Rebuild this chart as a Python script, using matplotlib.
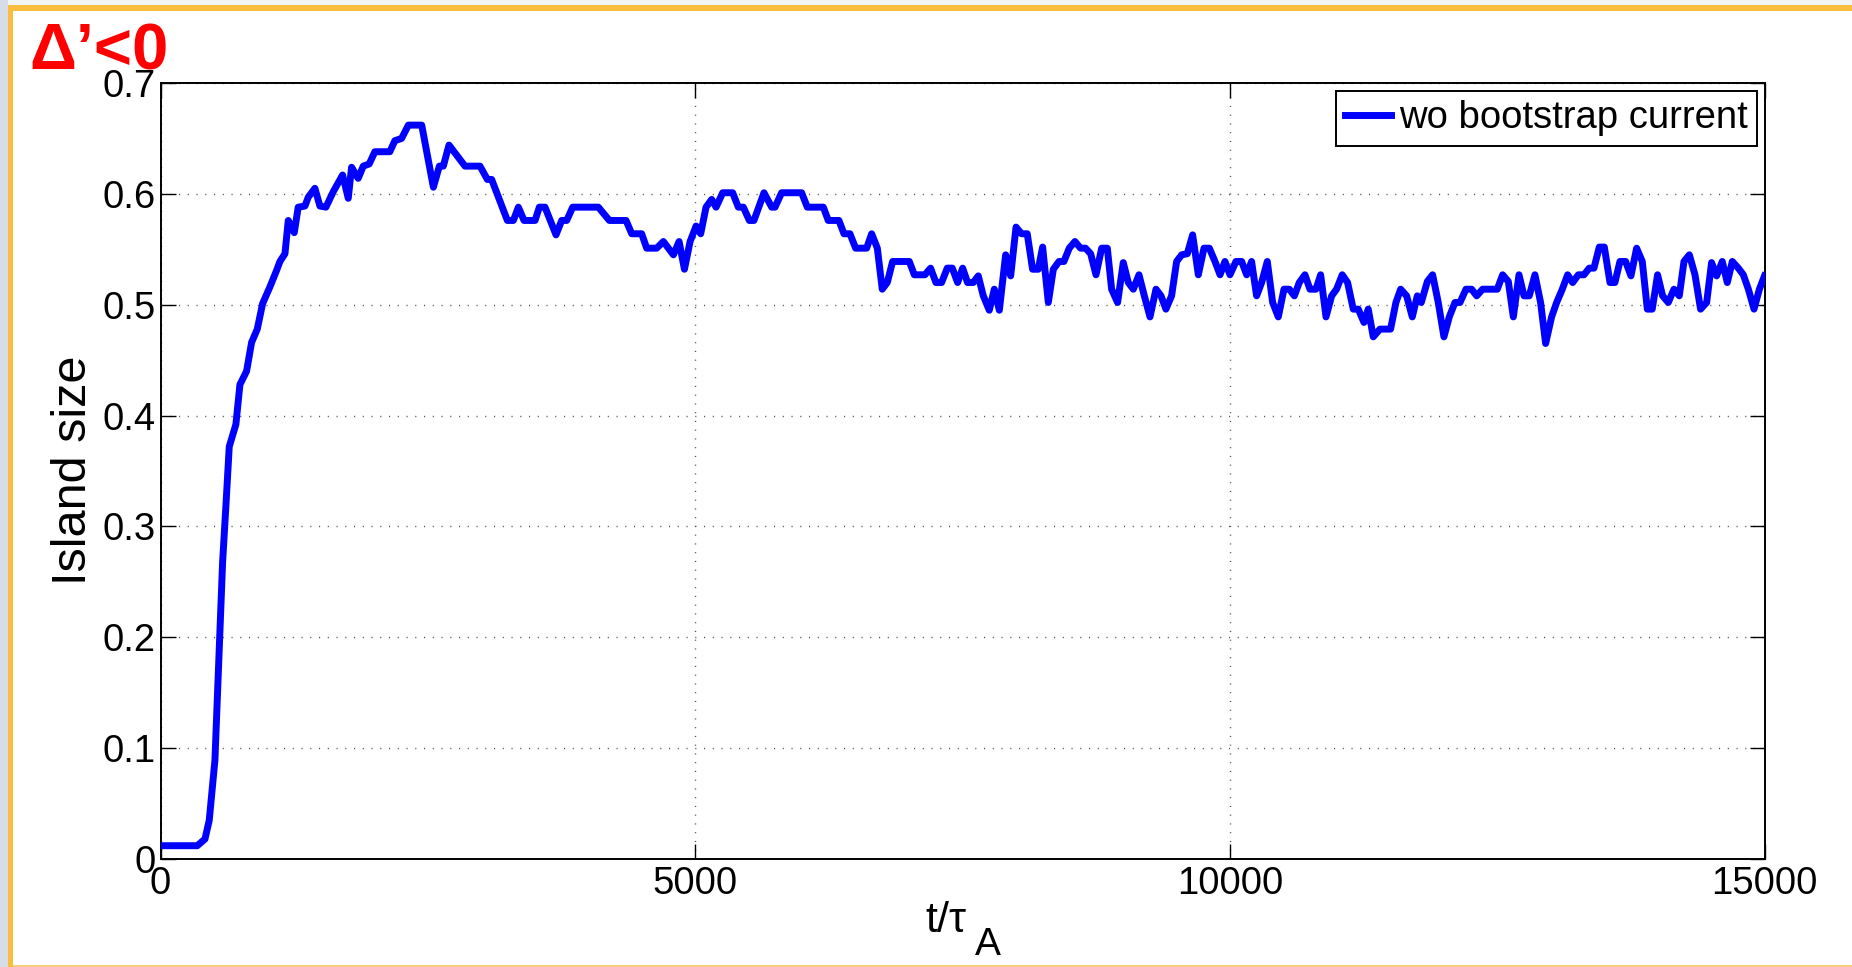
import matplotlib
matplotlib.use("Agg")
import matplotlib.pyplot as plt
from matplotlib.patches import Rectangle

# Island width history, t in Alfven times
t_alfven = [
    0, 343, 415, 455, 508, 539, 580, 611, 642, 704, 742, 804, 851, 904, 954,
    1022, 1085, 1116, 1163, 1194, 1250, 1287, 1350, 1381, 1443, 1490, 1546,
    1615, 1702, 1755, 1786, 1848, 1895, 1951, 2004, 2144, 2191, 2254,
    2317, 2442, 2551, 2607, 2644, 2697, 2847, 2987, 3056, 3096, 3243, 3299,
    3346, 3399, 3502, 3542, 3595, 3698, 3751, 3798, 3854, 4094, 4197, 4353,
    4406, 4499, 4546, 4640, 4702, 4796, 4849, 4899, 4952, 5008, 5051, 5101,
    5154, 5195, 5257, 5350, 5403, 5450, 5506, 5549,
    5643, 5715, 5746, 5808, 5995, 6048, 6198, 6244, 6344, 6391, 6447, 6500,
    6603, 6650, 6703, 6749, 6796, 6846, 7002, 7049, 7148, 7201, 7251, 7304,
    7357, 7404, 7454, 7501, 7547, 7600, 7647, 7694, 7750, 7797, 7844, 7903,
    7950, 8000, 8052, 8105, 8155, 8208, 8249, 8302, 8349, 8402, 8448, 8498,
    8551, 8604, 8650, 8698, 8748, 8801, 8854, 8894, 8950, 9003, 9050, 9097,
    9150, 9200, 9253, 9309, 9356, 9402, 9455, 9502, 9549, 9602, 9652, 9705,
    9758, 9808, 9861, 9908, 9954, 10001, 10057, 10110, 10157, 10203, 10250,
    10297, 10350, 10400, 10453, 10506, 10556, 10603, 10649, 10702, 10749,
    10805, 10849, 10899, 10952, 10998, 11051, 11101, 11154, 11201, 11254,
    11294, 11341, 11404, 11503, 11553, 11597, 11653, 11706, 11753, 11790,
    11847, 11896, 11949, 12002, 12052, 12105, 12152, 12208, 12261, 12308,
    12364, 12501, 12551, 12604, 12651, 12704, 12751, 12800, 12853, 12906,
    12953, 13009, 13056, 13109, 13159, 13206, 13259, 13312, 13361, 13405,
    13455, 13502, 13555, 13601, 13648, 13701, 13751, 13804, 13857, 13904,
    13950, 14000, 14047, 14100, 14153, 14203, 14247, 14297, 14350, 14402,
    14459, 14505, 14552, 14605, 14652, 14699, 14755, 14802, 14849, 14902,
    14952, 15000,
]
island_size = [
    0.012, 0.012, 0.018, 0.035, 0.089, 0.167, 0.268, 0.319, 0.372, 0.392,
    0.428, 0.440, 0.466, 0.478, 0.501, 0.516, 0.531, 0.539, 0.546, 0.576,
    0.565, 0.588, 0.589, 0.597, 0.605, 0.589, 0.588, 0.602, 0.617, 0.596,
    0.624, 0.614, 0.625, 0.627, 0.638, 0.638, 0.648, 0.650,
    0.662, 0.662, 0.606, 0.625, 0.625, 0.644, 0.625, 0.625, 0.613, 0.613,
    0.576, 0.576, 0.588, 0.576, 0.576, 0.588, 0.588, 0.563, 0.576, 0.576,
    0.588, 0.588, 0.576, 0.576, 0.564, 0.564, 0.551, 0.551, 0.557, 0.545,
    0.557, 0.532, 0.557, 0.571, 0.564, 0.588, 0.595, 0.588, 0.601, 0.601,
    0.588, 0.588, 0.576, 0.576,
    0.601, 0.588, 0.588, 0.601, 0.601, 0.588, 0.588, 0.576, 0.576, 0.564,
    0.564, 0.551, 0.551, 0.564, 0.551, 0.514, 0.520, 0.539, 0.539, 0.527,
    0.527, 0.533, 0.520, 0.520, 0.533, 0.533, 0.520, 0.533, 0.520, 0.520,
    0.526, 0.508, 0.495, 0.514, 0.495, 0.545, 0.526, 0.570, 0.564, 0.564,
    0.532, 0.532, 0.552, 0.502, 0.532, 0.539, 0.539, 0.551, 0.557, 0.551,
    0.551, 0.546, 0.527, 0.551, 0.551, 0.514, 0.502, 0.538, 0.520, 0.514,
    0.527, 0.508, 0.489, 0.514, 0.508, 0.496, 0.508, 0.539, 0.545, 0.546,
    0.563, 0.527, 0.551, 0.551, 0.539, 0.527, 0.539, 0.527, 0.539, 0.539,
    0.527, 0.539, 0.508, 0.520, 0.539, 0.502, 0.489, 0.514, 0.514, 0.508,
    0.520, 0.527, 0.514, 0.514, 0.527, 0.489, 0.508, 0.514, 0.527, 0.520,
    0.496, 0.496, 0.484, 0.496, 0.471, 0.478, 0.478, 0.502, 0.514, 0.508,
    0.489, 0.508, 0.502,
    0.521, 0.527, 0.502, 0.471, 0.489, 0.502, 0.502, 0.514, 0.514, 0.508,
    0.514, 0.514, 0.527, 0.521, 0.489, 0.527, 0.508, 0.508, 0.527, 0.502,
    0.465, 0.489, 0.502, 0.514, 0.527, 0.520, 0.527, 0.527, 0.533, 0.533,
    0.552, 0.552, 0.520, 0.520, 0.539, 0.539, 0.526, 0.551, 0.539, 0.496,
    0.496, 0.527, 0.508, 0.502, 0.514, 0.508, 0.539, 0.545, 0.527, 0.496,
    0.502, 0.538, 0.526, 0.539, 0.520, 0.539, 0.533, 0.527, 0.514, 0.496,
    0.514, 0.526,
]

x_ticks = [0, 5000, 10000, 15000]
x_tick_labels = ["0", "5000", "10000", "15000"]
y_ticks = [0, 0.1, 0.2, 0.3, 0.4, 0.5, 0.6, 0.7]
y_tick_labels = ["0", "0.1", "0.2", "0.3", "0.4", "0.5", "0.6", "0.7"]
series_label = "wo bootstrap current"
panel_tag = "\u0394\u2019<0"

W, H = 1852, 967
plt.rcParams["font.family"] = ["Liberation Sans", "DejaVu Sans"]

fig = plt.figure(figsize=(W / 100, H / 100), dpi=100, facecolor="white")

# slide frame around the plot
def px_rect(x0, y0, x1, y1, color):
    fig.patches.append(Rectangle((x0 / W, 1 - y1 / H), (x1 - x0) / W, (y1 - y0) / H,
                                 transform=fig.transFigure, facecolor=color,
                                 edgecolor="none", zorder=0))

px_rect(0, 0, W, 5, "#f3f4f6")
px_rect(0, 0, 8, H, "#d6dde8")
px_rect(8, 5, W, 11, "#fbbd40")
px_rect(8, 5, 13, H, "#fbbd40")
px_rect(13, 965, W, H, "#f5cf7a")

ax = fig.add_axes([160.6 / W, 1 - 859 / H, (1764.5 - 160.6) / W, (859 - 83) / H])
ax.set_facecolor("white")

ax.plot(t_alfven, island_size, color="#0000ff", lw=5.0, solid_joinstyle="round",
        label=series_label, zorder=3)

ax.set_xlim(0, 15000)
ax.set_ylim(0, 0.7)
ax.set_xticks(x_ticks, x_tick_labels)
ax.set_yticks(y_ticks, y_tick_labels)
ax.tick_params(axis="both", which="major", direction="in", length=11, width=1.0,
               labelsize=27.5, top=True, right=True, colors="black")
ax.tick_params(axis="x", pad=5)
ax.tick_params(axis="y", pad=3.5)
for s in ax.spines.values():
    s.set_linewidth(1.4)
    s.set_color("black")

ax.grid(True, color="#555555", lw=1.0, linestyle=(0, (0.8, 5.5)))
ax.set_axisbelow(True)

leg = ax.legend(loc="upper right", fontsize=27.5, frameon=True, fancybox=False,
                framealpha=1, edgecolor="black", borderpad=0.25, handlelength=1.2,
                handletextpad=0.2, borderaxespad=0.2)
leg.get_frame().set_linewidth(1.4)

# axis titles
fig.text(73 / W, 1 - 470 / H, "Island size", rotation=90, ha="center", va="center",
         fontsize=35)
fig.text(925 / W, 1 - 932 / H, "t/\u03c4", ha="left", va="baseline", fontsize=31)
fig.text(975 / W, 1 - 955 / H, "A", ha="left", va="baseline", fontsize=28)

fig.text(29 / W, 1 - 70 / H, panel_tag, ha="left", va="baseline", fontsize=47,
         fontweight="bold", color="#ff0000")

fig.savefig("out.png", dpi=100, facecolor="white")
